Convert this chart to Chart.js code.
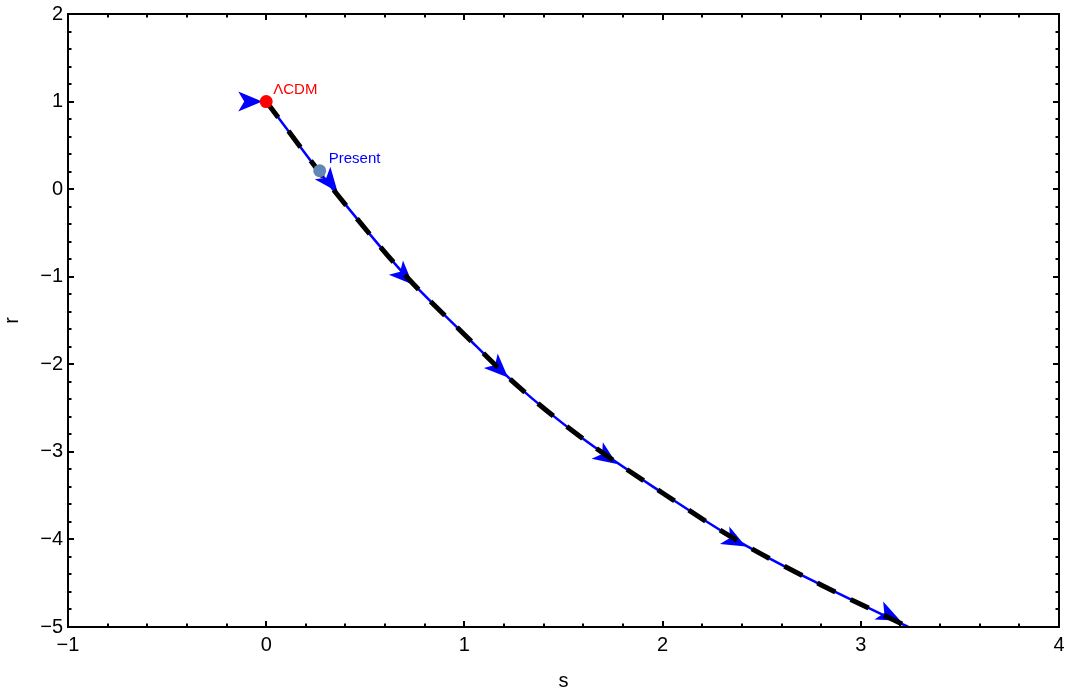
<!DOCTYPE html>
<html>
<head>
<meta charset="utf-8">
<script src="https://cdn.jsdelivr.net/npm/chart.js@4"></script>
<style>
html,body{margin:0;padding:0;background:#fff;}
#wrap{width:1067px;height:693px;position:relative;}
</style>
</head>
<body>
<div id="wrap"><canvas id="c" width="1067" height="693"></canvas></div>
<script>
// ---- data ----
const sVals = [0, 0.13, 0.26, 0.43, 0.70, 1.0, 1.27, 1.58, 2.0, 2.39, 2.8, 3.24];
const rVals = [1, 0.61, 0.22, -0.26, -0.98, -1.66, -2.25, -2.82, -3.47, -4.03, -4.52, -5.0];
const arrowS = [-0.02, 0.36, 0.74, 1.22, 1.77, 2.42, 3.20];
const arrowR = [1.0, -0.03, -1.09, -2.15, -3.14, -4.08, -4.93];
const lcdmPoint = {s: 0, r: 1, label: 'ΛCDM'};
const presentPoint = {s: 0.27, r: 0.21, label: 'Present'};
const xTicks = [-1, 0, 1, 2, 3, 4];
const yTicks = [-5, -4, -3, -2, -1, 0, 1, 2];

const curve = sVals.map((s, i) => ({x: s, y: rVals[i]}));
const FONT = '"Liberation Sans", Arial, sans-serif';
const fmt = v => (v < 0 ? '\u2212' + Math.abs(v) : String(v));

const framePlugin = {
  id: 'frame',
  afterDatasetDraw(chart, args) {
    if (args.index !== 0) return;
    const ctx = chart.ctx, xs = chart.scales.x, ys = chart.scales.y;
    const a = chart.chartArea;
    ctx.save();
    ctx.beginPath();
    ctx.rect(a.left, a.top, a.right - a.left, a.bottom - a.top);
    ctx.clip();
    ctx.fillStyle = '#0000ff';
    arrowS.forEach((s, i) => {
      const tx = xs.getPixelForValue(s), ty = ys.getPixelForValue(arrowR[i]);
      let ux = 1, uy = 0;
      if (s >= sVals[0]) {
        let k = 0;
        while (k < sVals.length - 2 && sVals[k + 1] < s) k++;
        const x0 = xs.getPixelForValue(sVals[k]), y0 = ys.getPixelForValue(rVals[k]);
        const x1 = xs.getPixelForValue(sVals[k + 1]), y1 = ys.getPixelForValue(rVals[k + 1]);
        const d = Math.hypot(x1 - x0, y1 - y0);
        ux = (x1 - x0) / d; uy = (y1 - y0) / d;
      }
      const L = 24, W = 10, N = 6;
      const nx = -uy, ny = ux;
      ctx.beginPath();
      ctx.moveTo(tx, ty);
      ctx.lineTo(tx - L * ux + W * nx, ty - L * uy + W * ny);
      ctx.lineTo(tx - (L - N) * ux, ty - (L - N) * uy);
      ctx.lineTo(tx - L * ux - W * nx, ty - L * uy - W * ny);
      ctx.closePath();
      ctx.fill();
    });
    ctx.restore();
  },
  afterDatasetsDraw(chart) {
    const ctx = chart.ctx, xs = chart.scales.x, ys = chart.scales.y;
    const a = chart.chartArea;
    ctx.save();
    ctx.font = '15px ' + FONT;
    ctx.textAlign = 'left';
    ctx.textBaseline = 'alphabetic';
    ctx.fillStyle = '#ff0000';
    ctx.fillText(lcdmPoint.label, xs.getPixelForValue(lcdmPoint.s) + 7, ys.getPixelForValue(lcdmPoint.r) - 8);
    ctx.fillStyle = '#0000ff';
    ctx.fillText(presentPoint.label, xs.getPixelForValue(presentPoint.s) + 9, ys.getPixelForValue(presentPoint.r) - 8);
    ctx.strokeStyle = '#000';
    ctx.lineWidth = 2;
    ctx.strokeRect(a.left, a.top, a.right - a.left, a.bottom - a.top);
    ctx.beginPath();
    for (let v = -1; v <= 4.0001; v += 0.2) {
      const major = Math.abs(v - Math.round(v)) < 1e-6;
      const len = major ? 6 : 3.5;
      const px = Math.round(xs.getPixelForValue(v));
      ctx.moveTo(px, a.bottom); ctx.lineTo(px, a.bottom - len);
      ctx.moveTo(px, a.top); ctx.lineTo(px, a.top + len);
    }
    for (let v = -5; v <= 2.0001; v += 0.2) {
      const major = Math.abs(v - Math.round(v)) < 1e-6;
      const len = major ? 6 : 3.5;
      const py = Math.round(ys.getPixelForValue(v));
      ctx.moveTo(a.left, py); ctx.lineTo(a.left + len, py);
      ctx.moveTo(a.right, py); ctx.lineTo(a.right - len, py);
    }
    ctx.stroke();
    ctx.restore();
  }
};

new Chart(document.getElementById('c'), {
  type: 'scatter',
  data: {
    datasets: [
      {
        data: curve, showLine: true, borderColor: '#0000ff', borderWidth: 2.5,
        pointRadius: 0, cubicInterpolationMode: 'monotone', order: 4
      },
      {
        data: curve, showLine: true, borderColor: '#000000', borderWidth: 5,
        borderDash: [20, 17], pointRadius: 0, cubicInterpolationMode: 'monotone', order: 3
      },
      {
        data: [{x: lcdmPoint.s, y: lcdmPoint.r}], pointRadius: 6.5,
        pointBackgroundColor: '#ff0000', pointBorderWidth: 0, order: 2
      },
      {
        data: [{x: presentPoint.s, y: presentPoint.r}], pointRadius: 6.5,
        pointBackgroundColor: '#6287b4', pointBorderWidth: 0, order: 1
      }
    ]
  },
  options: {
    responsive: false,
    animation: false,
    events: [],
    layout: {padding: {top: 14, right: 8, left: 0, bottom: 0}},
    plugins: {legend: {display: false}, tooltip: {enabled: false}},
    scales: {
      x: {
        type: 'linear', min: -1, max: 4,
        afterBuildTicks: s => { s.ticks = xTicks.map(v => ({value: v})); },
        afterFit: s => { s.height = 66; s.paddingLeft = 0; s.paddingRight = 0; },
        grid: {display: false, drawTicks: false},
        border: {display: false},
        ticks: {padding: 6, color: '#000', font: {family: FONT, size: 20}, callback: fmt, maxRotation: 0},
        title: {display: true, text: 's', color: '#000', font: {family: FONT, size: 20}, padding: {top: 0, bottom: 0}}
      },
      y: {
        type: 'linear', min: -5, max: 2,
        afterBuildTicks: s => { s.ticks = yTicks.map(v => ({value: v})); },
        afterFit: s => { s.width = 68; s.paddingTop = 0; s.paddingBottom = 0; },
        grid: {display: false, drawTicks: false},
        border: {display: false},
        ticks: {padding: 5, color: '#000', font: {family: FONT, size: 20}, callback: fmt},
        title: {display: true, text: 'r', color: '#000', font: {family: FONT, size: 20}, padding: {top: 0, bottom: 0}}
      }
    }
  },
  plugins: [framePlugin]
});
</script>
</body>
</html>
